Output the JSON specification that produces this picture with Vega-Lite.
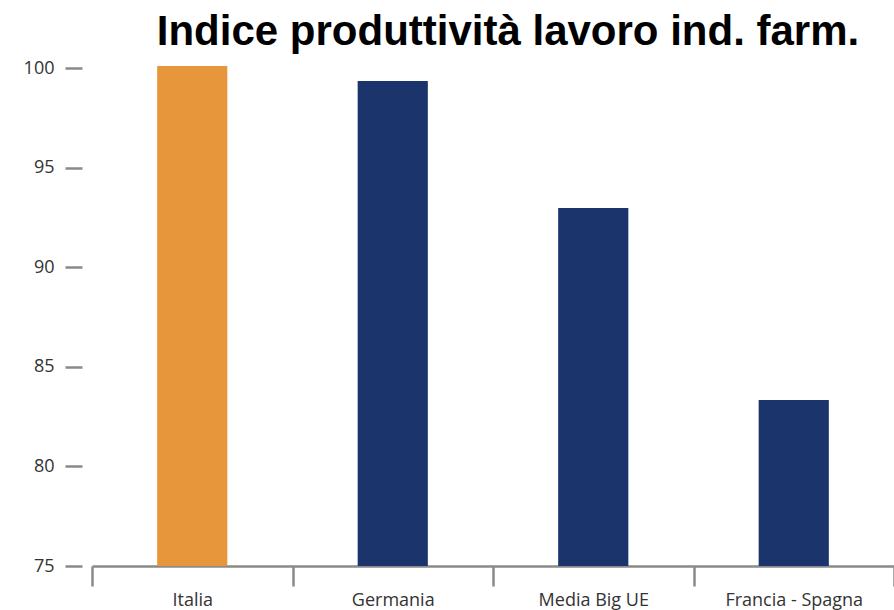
{
  "$schema": "https://vega.github.io/schema/vega-lite/v6.json",
  "autosize": "none",
  "width": 802,
  "height": 498,
  "padding": {"left": 92, "top": 68, "right": 0, "bottom": 44},
  "background": "white",
  "title": {
    "text": "Indice produttività lavoro ind. farm.",
    "font": "Liberation Sans",
    "fontWeight": "bold",
    "fontSize": 42,
    "color": "#000000",
    "anchor": "middle",
    "dx": 15,
    "offset": 5
  },
  "data": {
    "values": [
      {"paese": "Italia", "indice": 100.1},
      {"paese": "Germania", "indice": 99.35},
      {"paese": "Media Big UE", "indice": 92.97},
      {"paese": "Francia - Spagna", "indice": 83.33}
    ]
  },
  "mark": {"type": "bar", "width": {"band": 0.35}},
  "encoding": {
    "x": {
      "field": "paese",
      "type": "nominal",
      "sort": null,
      "scale": {"paddingInner": 0, "paddingOuter": 0},
      "axis": {
        "title": null,
        "labelAngle": 0,
        "domainColor": "#8a8a8a",
        "domainWidth": 2.5,
        "tickColor": "#8a8a8a",
        "tickWidth": 2.5,
        "tickSize": 20,
        "tickBand": "extent",
        "labelFont": "Open Sans",
        "labelFontSize": 18,
        "labelColor": "#333333",
        "labelPadding": 5
      }
    },
    "y": {
      "field": "indice",
      "type": "quantitative",
      "scale": {"domain": [75, 100], "zero": false, "nice": false},
      "axis": {
        "title": null,
        "values": [75, 80, 85, 90, 95, 100],
        "domain": false,
        "grid": false,
        "offset": 10,
        "tickColor": "#8a8a8a",
        "tickWidth": 2.5,
        "tickSize": 17,
        "labelFont": "Open Sans",
        "labelFontSize": 18,
        "labelColor": "#333333",
        "labelPadding": 11
      }
    },
    "y2": {"datum": 75},
    "color": {
      "field": "paese",
      "type": "nominal",
      "legend": null,
      "scale": {
        "domain": ["Italia", "Germania", "Media Big UE", "Francia - Spagna"],
        "range": ["#E8963C", "#1B346B", "#1B346B", "#1B346B"]
      }
    }
  },
  "config": {"view": {"stroke": null}}
}
